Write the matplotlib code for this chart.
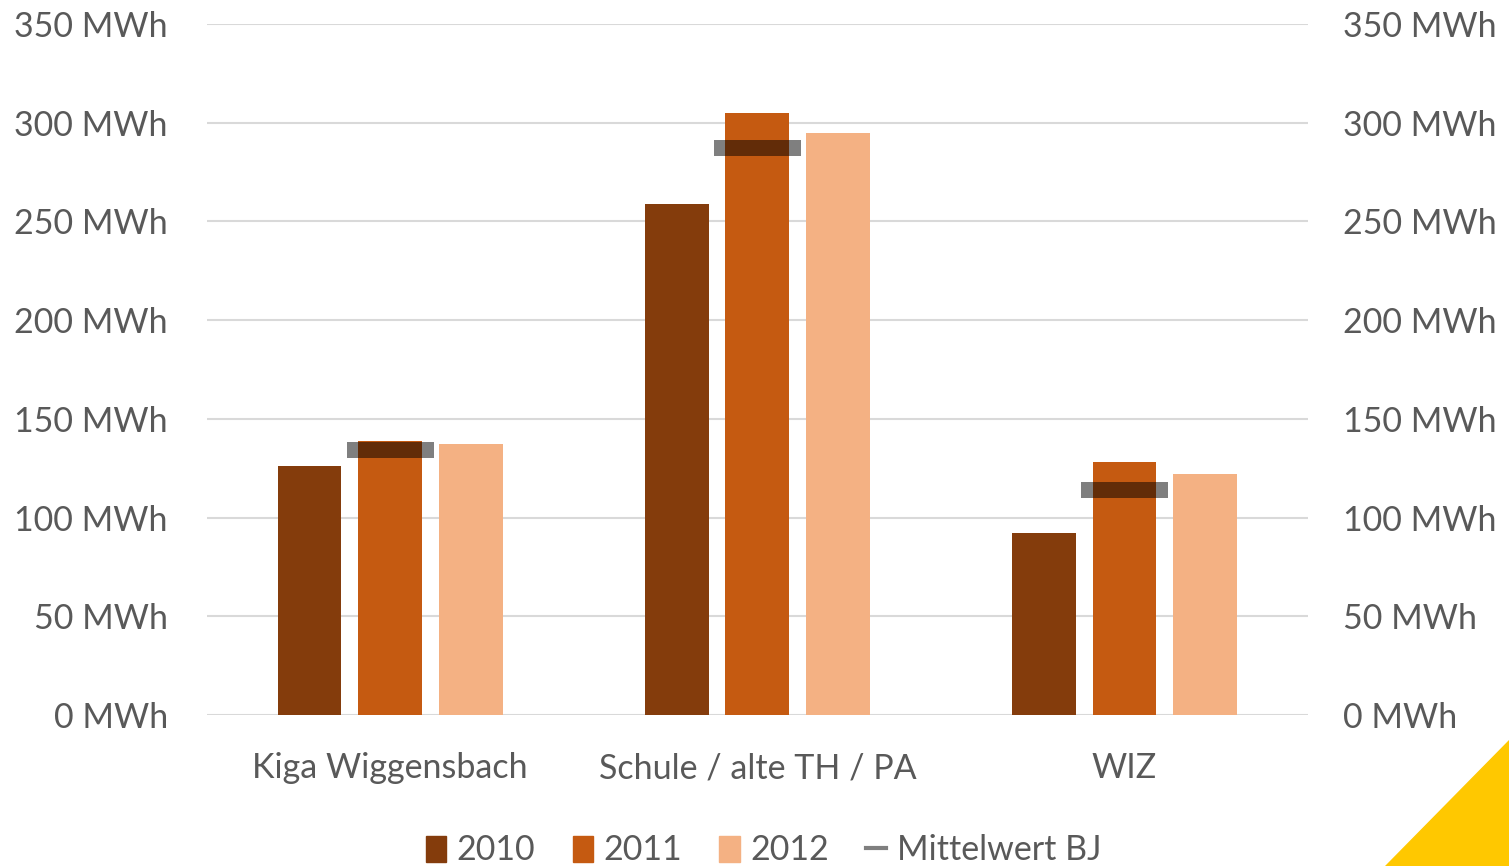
import matplotlib
matplotlib.use("Agg")
import matplotlib.pyplot as plt
import numpy as np
from matplotlib.patches import Polygon, Patch
from matplotlib.lines import Line2D

plt.rcParams['font.family'] = ['Lato', 'DejaVu Sans']

categories = ["Kiga Wiggensbach", "Schule / alte TH / PA", "WIZ"]
years = ["2010", "2011", "2012"]
v2010 = [126, 259, 92]
v2011 = [139, 305, 128]
v2012 = [137, 295, 122]
mittelwert = [134, 287, 114]
colors = ["#843C0C", "#C55A11", "#F4B183"]
text_col = "#595959"
fs = 24.5

fig = plt.figure(figsize=(15.09, 8.66), dpi=100)
ax = fig.add_axes([0.137, 0.1744, 0.7298, 0.7979])

x = np.arange(len(categories))
w = 0.174
step = 0.22
for i, (vals, c) in enumerate(zip([v2010, v2011, v2012], colors)):
    ax.bar(x + (i - 1) * step, vals, width=w, color=c, zorder=2)

# mean markers (semi-transparent grey bars)
for xi, m in zip(x, mittelwert):
    ax.plot([xi - 0.118, xi + 0.118], [m, m], color="black", alpha=0.5,
            lw=16 * 72 / 100, solid_capstyle="butt", zorder=3)

ax.set_xlim(-0.5, 2.5)
ax.set_ylim(0, 350)
ax.set_yticks(np.arange(0, 351, 50))
ax.set_yticklabels([f"{v} MWh" for v in range(0, 351, 50)])
ax.grid(axis="y", color="#D9D9D9", lw=1.5, zorder=0)
ax.set_axisbelow(True)
for s in ax.spines.values():
    s.set_visible(False)
ax.tick_params(axis="y", length=0, pad=28, labelsize=fs, labelcolor=text_col)
ax.set_xticks(x)
ax.set_xticklabels(categories)
ax.tick_params(axis="x", length=0, pad=27, labelsize=fs, labelcolor=text_col)

ax2 = ax.twinx()
ax2.set_ylim(0, 350)
ax2.set_yticks(np.arange(0, 351, 50))
ax2.set_yticklabels([f"{v} MWh" for v in range(0, 351, 50)])
ax2.tick_params(axis="y", length=0, pad=25, labelsize=fs, labelcolor=text_col)
for s in ax2.spines.values():
    s.set_visible(False)

handles = [Patch(color=c, label=y) for c, y in zip(colors, years)]
handles.append(Line2D([0], [0], color="#7f7f7f", lw=3, label="Mittelwert BJ"))
fig.legend(handles=handles, loc="center", bbox_to_anchor=(0.506, 0.018), ncol=4,
           frameon=False, fontsize=fs, labelcolor=text_col, handlelength=0.6,
           handleheight=0.8, handletextpad=0.3, columnspacing=1.1)

fig.patches.append(Polygon([[1.0, 1 - 740 / 866], [1.0, 0.0], [1385 / 1509, 0.0]],
                           closed=True, transform=fig.transFigure,
                           color="#FFC800", zorder=0))

fig.savefig("out.png", dpi=100)
